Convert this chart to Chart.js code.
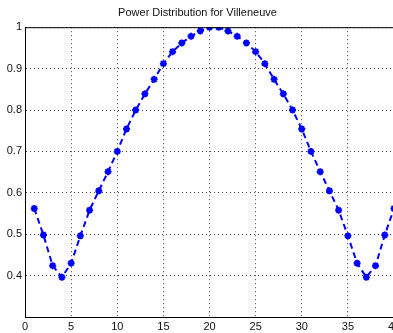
<!DOCTYPE html>
<html>
<head>
<meta charset="utf-8">
<script src="https://cdn.jsdelivr.net/npm/chart.js@4/dist/chart.umd.min.js"></script>
<style>
  html, body { margin: 0; padding: 0; background: #fff; overflow: hidden; }
  #wrap { width: 400px; height: 333px; }
</style>
</head>
<body>
<div id="wrap"><canvas id="myChart" width="400" height="333"></canvas></div>
<script>
// values, one per position 1..40
const positions = [];
for (let i = 1; i <= 40; i++) positions.push(i);
const power = [0.562, 0.498, 0.424, 0.396, 0.430, 0.496, 0.558, 0.605, 0.651, 0.700,
               0.754, 0.800, 0.839, 0.874, 0.912, 0.941, 0.962, 0.978, 0.991, 1.000,
               1.000, 0.991, 0.978, 0.962, 0.941, 0.912, 0.874, 0.839, 0.800, 0.754,
               0.700, 0.651, 0.605, 0.558, 0.496, 0.430, 0.396, 0.424, 0.498, 0.562];
const xTicks = [0, 5, 10, 15, 20, 25, 30, 35, 40];
const yTicks = [0.3, 0.4, 0.5, 0.6, 0.7, 0.8, 0.9, 1];

const font = { family: 'Liberation Sans, Arial, sans-serif', size: 11 };

// box round the plot area (top and right edges)
const boxPlugin = {
  id: 'box',
  afterDraw(chart) {
    const a = chart.chartArea, c = chart.ctx;
    c.save();
    c.strokeStyle = '#000';
    c.lineWidth = 1;
    c.strokeRect(a.left + 0.5, a.top + 0.5, a.right - a.left, a.bottom - a.top);
    c.restore();
  }
};

const ctx = document.getElementById('myChart');
new Chart(ctx, {
  type: 'line',
  data: {
    labels: positions,
    datasets: [{
      data: positions.map((x, i) => ({ x: x, y: power[i] })),
      borderColor: '#0000ff',
      backgroundColor: '#0000ff',
      borderWidth: 2,
      borderDash: [6, 4],
      pointStyle: 'star',
      pointRadius: 3.5,
      pointBorderWidth: 2,
      pointBorderColor: '#0000ff',
      fill: false,
      tension: 0
    }]
  },
  options: {
    responsive: false,
    animation: false,
    layout: { padding: { left: 0, right: 5, top: 0, bottom: 0 } },
    plugins: {
      legend: { display: false },
      tooltip: { enabled: false },
      title: {
        display: true,
        text: 'Power Distribution for Villeneuve',
        color: '#111',
        font: { family: font.family, size: 11, weight: 'normal' },
        padding: { top: 6, bottom: 8 }
      }
    },
    scales: {
      x: {
        type: 'linear',
        min: 0,
        max: 40,
        afterBuildTicks: s => { s.ticks = xTicks.map(v => ({ value: v })); },
        afterFit: s => { s.height = 16; s.paddingLeft = 0; s.paddingRight = 0; },
        ticks: { color: '#111', font: font, padding: 3, maxRotation: 0, autoSkip: false },
        grid: { color: '#444', lineWidth: 1, drawTicks: false },
        border: { color: '#000', width: 1, dash: [1, 3] }
      },
      y: {
        min: 0.3,
        max: 1,
        afterBuildTicks: s => { s.ticks = yTicks.map(v => ({ value: v })); },
        afterFit: s => { s.width = 25; },
        ticks: {
          color: '#111', font: font, padding: 3,
          callback: v => (v < 0.35 ? '' : String(Math.round(v * 10) / 10))
        },
        grid: { color: '#444', lineWidth: 1, drawTicks: false },
        border: { color: '#000', width: 1, dash: [1, 3] }
      }
    }
  },
  plugins: [boxPlugin]
});
</script>
</body>
</html>
